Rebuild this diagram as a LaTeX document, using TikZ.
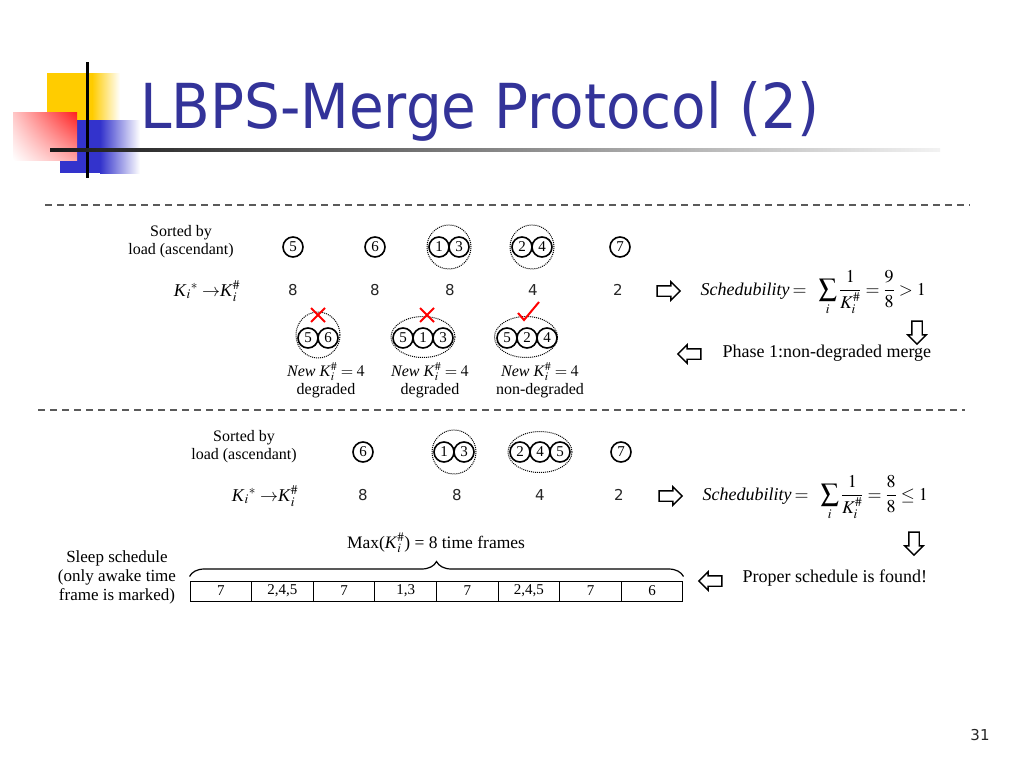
\documentclass[tikz,border=0pt]{standalone}
\usepackage{mathptmx}
\usepackage{fontspec}
\setmainfont{Liberation Serif}
\newfontfamily\titlefont{DejaVu Sans}
\newfontfamily\numfont{DejaVu Sans}
\usetikzlibrary{shapes.geometric,shapes.arrows,shadings,decorations.pathreplacing}
\definecolor{titleblue}{RGB}{51,51,153}
\definecolor{decoyellow}{RGB}{255,204,0}
\definecolor{decoblue}{RGB}{51,51,204}
\definecolor{decored}{RGB}{255,30,30}
\definecolor{sepgray}{RGB}{90,90,90}
\begin{document}
\begin{tikzpicture}[x=1pt,y=-1pt]
  \tikzset{ball/.style={draw,circle,line width=1.6pt,inner sep=0pt,minimum size=20pt,font=\fontsize{15}{15}\selectfont},
           ring/.style={draw,densely dotted,line width=1pt,inner sep=0pt},
           bodytext/.style={font=\fontsize{16}{18}\selectfont,align=center},
           bigtext/.style={font=\fontsize{18}{20}\selectfont,align=center},
           numtext/.style={font=\numfont\fontsize{15}{15}\selectfont,text=black!85},
           hollow/.style={single arrow,draw,line width=1.4pt,fill=white,inner sep=4.5pt,minimum height=23pt,single arrow head extend=4pt},
           cell/.style={draw,line width=1pt,minimum width=61.6pt,minimum height=20pt,inner sep=0pt,font=\fontsize{15}{15}\selectfont},
           sepline/.style={sepgray,line width=1.5pt,dash pattern=on 7pt off 5pt},
           redpen/.style={red,line width=2pt}}

  \useasboundingbox (0,0) rectangle (1024,768);

  % title decoration
  \fill[decoyellow] (47,73) rectangle (92,120);
  \shade[left color=decoyellow,right color=white] (92,73) rectangle (120,120);
  \fill[decoblue] (60,120) rectangle (100,173);
  \shade[left color=decoblue,right color=white] (100,120) rectangle (140,173);
  \shade[upper left=decored!25,upper right=decored,lower left=white,lower right=decored!40] (13,112) rectangle (77,160);
  \fill[black] (85.5,62) rectangle (88.5,178);
  \shade[left color=black!90,right color=black!5] (50,148.5) rectangle (940,151.5);
  \node[anchor=base west,inner sep=0pt,xscale=0.91,font=\titlefont\fontsize{62}{62}\selectfont,text=titleblue] (title) at (140,128) {LBPS-Merge Protocol (2)};

  % separators
  \draw[sepline] (45,205) -- (970,205);
  \draw[sepline] (38,410) -- (965,410);

  % first pass
  \node[bodytext] (sort1) at (181,242) {Sorted by\\load (ascendant)};
  \node[ring,circle,minimum size=44pt] (r13) at (449,247) {};
  \node[ring,circle,minimum size=44pt] (r24) at (532,247) {};
  \node[ball] (t5) at (293,247) {5};
  \node[ball] (t6) at (375,247) {6};
  \node[ball] (t1) at (439,247) {1};
  \node[ball] (t3) at (459,247) {3};
  \node[ball] (t2) at (522,247) {2};
  \node[ball] (t4) at (542,247) {4};
  \node[ball] (t7) at (620,247) {7};

  \node[bigtext] (kmap1) at (207,291) {\textit{K}$_i{}^{*}\rightarrow$\textit{K}$_i^{\#}$};
  \node[numtext] (k1) at (293,290) {8};
  \node[numtext] (k2) at (375,290) {8};
  \node[numtext] (k3) at (450,290) {8};
  \node[numtext] (k4) at (533,290) {4};
  \node[numtext] (k5) at (618,290) {2};

  \node[hollow] (ar1) at (666,291) {};
  \node[bigtext,anchor=west] (sched1) at (697,293) {\textit{Schedubility}\,$=$\hspace{12pt}$\displaystyle\sum_i\frac{1}{K_i^{\#}}=\frac{9}{8}>1$};
  \node[hollow,shape border rotate=270] (ad1) at (917,330) {};
  \node[hollow,shape border rotate=180] (al1) at (692,354) {};
  \node[bigtext,anchor=west] (phase) at (719,353) {Phase 1:non-degraded merge};

  % trial merges
  \node[ring,ellipse,minimum width=44pt,minimum height=46pt] (g1) at (318,335) {};
  \node[ring,ellipse,minimum width=64pt,minimum height=41pt] (g2) at (423,337) {};
  \node[ring,ellipse,minimum width=63pt,minimum height=41pt] (g3) at (526,337) {};
  \node[ball] (m5a) at (308,338) {5};
  \node[ball] (m6) at (328,338) {6};
  \node[ball] (m5b) at (403,338) {5};
  \node[ball] (m1) at (423,338) {1};
  \node[ball] (m3) at (443,338) {3};
  \node[ball] (m5c) at (507,338) {5};
  \node[ball] (m2) at (527,338) {2};
  \node[ball] (m4) at (547,338) {4};

  \draw[redpen] (311,308) -- (325,322) (325,308) -- (311,322);
  \draw[redpen] (420,308) -- (434,322) (434,308) -- (420,322);
  \draw[redpen] (518,313) -- (524,320) -- (539,302);

  \node[bodytext] (new1) at (326,380) {\textit{New} \textit{K}$_i^{\#}=4$\\degraded};
  \node[bodytext] (new2) at (430,380) {\textit{New} \textit{K}$_i^{\#}=4$\\degraded};
  \node[bodytext] (new3) at (540,380) {\textit{New} \textit{K}$_i^{\#}=4$\\non-degraded};

  % second pass
  \node[bodytext] (sort2) at (244,447) {Sorted by\\load (ascendant)};
  \node[ring,circle,minimum size=44pt] (r13b) at (454,452) {};
  \node[ring,ellipse,minimum width=64pt,minimum height=41pt] (r245) at (540,452) {};
  \node[ball] (b6) at (363,452) {6};
  \node[ball] (b1) at (444,452) {1};
  \node[ball] (b3) at (464,452) {3};
  \node[ball] (b2) at (520,452) {2};
  \node[ball] (b4) at (540,452) {4};
  \node[ball] (b5) at (560,452) {5};
  \node[ball] (b7) at (621,452) {7};

  \node[bigtext] (kmap2) at (265,496) {\textit{K}$_i{}^{*}\rightarrow$\textit{K}$_i^{\#}$};
  \node[numtext] (c1) at (363,495) {8};
  \node[numtext] (c2) at (457,495) {8};
  \node[numtext] (c3) at (540,495) {4};
  \node[numtext] (c4) at (619,495) {2};

  \node[hollow] (ar2) at (668,496) {};
  \node[bigtext,anchor=west] (sched2) at (699,498) {\textit{Schedubility}\,$=$\hspace{12pt}$\displaystyle\sum_i\frac{1}{K_i^{\#}}=\frac{8}{8}\leq1$};
  \node[hollow,shape border rotate=270] (ad2) at (914,541) {};
  \node[hollow,shape border rotate=180] (al2) at (713,581) {};
  \node[bigtext,anchor=west] (found) at (739,578) {Proper schedule is found!};

  % sleep schedule
  \node[align=center,font=\fontsize{17}{19}\selectfont] (sleep) at (117,577) {Sleep schedule\\(only awake time\\frame is marked)};
  \foreach \v [count=\k] in {7,{2,4,5},7,{1,3},7,{2,4,5},7,6}
    \node[cell] (cell\k) at ({190+61.625*(\k-0.5)},591) {\v};
  \draw[line width=1.2pt,decorate,decoration={brace,amplitude=15pt}] ([yshift=4pt]cell1.north west) -- ([yshift=4pt]cell8.north east);
  \node[align=center,font=\fontsize{17.5}{20}\selectfont] (maxk) at (436,543) {Max(\textit{K}$_i^{\#}$) = 8 time frames};

  \node[numtext] (page) at (980,735) {31};
\end{tikzpicture}
\end{document}
